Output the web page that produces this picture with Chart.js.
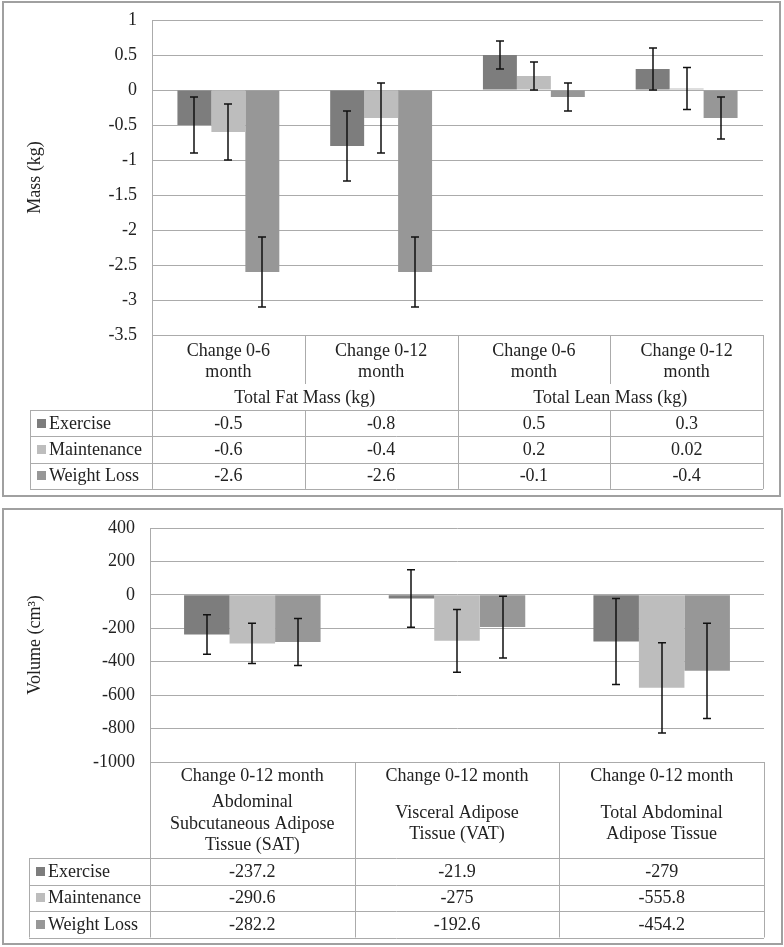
<!DOCTYPE html>
<html>
<head>
<meta charset="utf-8">
<script src="https://cdn.jsdelivr.net/npm/chart.js@4"></script>
<style>
  body { margin: 0; background: #fff; }
  .panel { position: absolute; left: 0; width: 784px; }
</style>
</head>
<body>
<div class="panel" style="top:0;height:500px"><canvas id="massChart"></canvas></div>
<div class="panel" style="top:500px;height:447px"><canvas id="volumeChart"></canvas></div>
<script>
// series shared by both charts
const seriesNames = ['Exercise', 'Maintenance', 'Weight Loss'];
const seriesColors = ['#7d7d7d', '#bdbdbd', '#979797'];

// top chart: body mass
const massCategories = ['Change 0-6 month', 'Change 0-12 month', 'Change 0-6 month', 'Change 0-12 month'];
const massGroups = ['Total Fat Mass (kg)', 'Total Lean Mass (kg)'];
const massExercise = [-0.5, -0.8, 0.5, 0.3];
const massMaintenance = [-0.6, -0.4, 0.2, 0.02];
const massWeightLoss = [-2.6, -2.6, -0.1, -0.4];
const massExerciseErr = [0.4, 0.5, 0.2, 0.3];
const massMaintenanceErr = [0.4, 0.5, 0.2, 0.3];
const massWeightLossErr = [0.5, 0.5, 0.2, 0.3];

// bottom chart: adipose tissue volume
const volumeCategories = ['Change 0-12 month', 'Change 0-12 month', 'Change 0-12 month'];
const volumeTissues = [
  ['Abdominal', 'Subcutaneous Adipose', 'Tissue (SAT)'],
  ['Visceral Adipose', 'Tissue (VAT)'],
  ['Total Abdominal', 'Adipose Tissue']
];
const volumeExercise = [-237.2, -21.9, -279];
const volumeMaintenance = [-290.6, -275, -555.8];
const volumeWeightLoss = [-282.2, -192.6, -454.2];
const volumeExerciseErr = [118, 172, 257];
const volumeMaintenanceErr = [120, 188, 270];
const volumeWeightLossErr = [140, 185, 285];

const fontFamily = '"Liberation Serif", "Times New Roman", serif';
const gridColor = '#ababab';
const textColor = '#222';

function px(v) { return Math.round(v) + 0.5; }

function panelBorder(box) {
  return {
    id: 'panelBorder',
    beforeDraw(chart) {
      const ctx = chart.ctx;
      ctx.save();
      ctx.fillStyle = '#fff';
      ctx.fillRect(0, 0, chart.width, chart.height);
      ctx.strokeStyle = '#a0a0a0';
      ctx.lineWidth = 2;
      ctx.strokeRect(box[0], box[1], box[2], box[3]);
      ctx.restore();
    }
  };
}

function errorBars(errs) {
  return {
    id: 'errorBars',
    afterDatasetsDraw(chart) {
      const ctx = chart.ctx;
      const y = chart.scales.y;
      ctx.save();
      ctx.strokeStyle = '#111';
      ctx.lineWidth = 1.5;
      chart.data.datasets.forEach((ds, di) => {
        chart.getDatasetMeta(di).data.forEach((bar, i) => {
          const v = ds.data[i], e = errs[di][i];
          const y1 = y.getPixelForValue(v + e), y2 = y.getPixelForValue(v - e);
          const bx = Math.round(bar.x);
          ctx.beginPath();
          ctx.moveTo(bx, y1); ctx.lineTo(bx, y2);
          ctx.moveTo(bx - 4, y1); ctx.lineTo(bx + 4, y1);
          ctx.moveTo(bx - 4, y2); ctx.lineTo(bx + 4, y2);
          ctx.stroke();
        });
      });
      ctx.restore();
    }
  };
}

// data table under the plot, columns follow the category scale
function dataTable(cfg) {
  return {
    id: 'dataTable',
    afterDraw(chart) {
      const ctx = chart.ctx;
      const x = chart.scales.x;
      const area = chart.chartArea;
      const n = chart.data.labels.length;
      const half = (x.getPixelForValue(1) - x.getPixelForValue(0)) / 2;
      const edges = [];
      for (let i = 0; i < n; i++) edges.push(x.getPixelForValue(i) - half);
      edges.push(x.getPixelForValue(n - 1) + half);
      const rows = chart.data.datasets.length;
      const top = area.bottom;
      const bottom = cfg.rowTop + cfg.rowH * rows;
      const line = (x1, y1, x2, y2) => { ctx.beginPath(); ctx.moveTo(x1, y1); ctx.lineTo(x2, y2); ctx.stroke(); };

      ctx.save();
      ctx.strokeStyle = gridColor;
      ctx.lineWidth = 1;
      edges.forEach((ex, i) => {
        const major = !cfg.groupSize || i % cfg.groupSize === 0;
        if (major) {
          line(px(ex), top, px(ex), bottom);
        } else {
          line(px(ex), top, px(ex), cfg.minorBottom);
          line(px(ex), cfg.rowTop, px(ex), bottom);
        }
      });
      line(px(cfg.labelLeft), cfg.rowTop, px(cfg.labelLeft), bottom);
      for (let r = 0; r <= rows; r++) {
        const ry = px(cfg.rowTop + r * cfg.rowH);
        line(cfg.labelLeft, ry, edges[n], ry);
      }

      ctx.fillStyle = textColor;
      ctx.font = '18px ' + fontFamily;
      ctx.textAlign = 'center';
      ctx.textBaseline = 'middle';
      cfg.header.forEach((lines, i) => {
        const cx = (edges[i] + edges[i + 1]) / 2;
        const y0 = cfg.headerY[i] - (lines.length - 1) * cfg.lineH / 2;
        lines.forEach((t, k) => ctx.fillText(t, cx, y0 + k * cfg.lineH));
      });
      if (cfg.groups) {
        cfg.groups.forEach((g, gi) => {
          const cx = (edges[gi * cfg.groupSize] + edges[(gi + 1) * cfg.groupSize]) / 2;
          ctx.fillText(g, cx, cfg.groupY);
        });
      }

      chart.data.datasets.forEach((ds, r) => {
        const cy = cfg.rowTop + (r + 0.5) * cfg.rowH;
        ctx.fillStyle = ds.backgroundColor;
        ctx.fillRect(cfg.labelLeft + 7, Math.round(cy - 4.5), 9, 9);
        ctx.fillStyle = textColor;
        ctx.textAlign = 'left';
        ctx.fillText(ds.label, cfg.labelLeft + 19, cy + 1);
        ctx.textAlign = 'center';
        ds.data.forEach((v, i) => ctx.fillText(String(v), (edges[i] + edges[i + 1]) / 2, cy + 1));
      });
      ctx.restore();
    }
  };
}

function barDatasets(values) {
  return values.map((d, i) => ({
    label: seriesNames[i],
    data: d,
    backgroundColor: seriesColors[i],
    borderWidth: 0,
    barPercentage: 1,
    categoryPercentage: 0.667
  }));
}

function baseOptions(p) {
  return {
    responsive: true,
    maintainAspectRatio: false,
    animation: false,
    layout: { padding: p.padding },
    plugins: { legend: { display: false }, tooltip: { enabled: false } },
    scales: {
      x: { display: false },
      y: {
        min: p.min,
        max: p.max,
        afterFit(scale) {
          scale.width = p.axisWidth;
          scale.paddingTop = 0;
          scale.paddingBottom = 0;
        },
        border: { display: true, color: gridColor },
        grid: { color: gridColor, drawTicks: false },
        ticks: {
          stepSize: p.step,
          padding: 15,
          color: textColor,
          font: { family: fontFamily, size: 18 },
          callback: (v) => String(v)
        },
        title: {
          display: true,
          text: p.title,
          color: textColor,
          font: { family: fontFamily, size: 18 },
          padding: { top: 24, bottom: 0 }
        }
      }
    }
  };
}

new Chart(document.getElementById('massChart'), {
  type: 'bar',
  data: {
    labels: massCategories,
    datasets: barDatasets([massExercise, massMaintenance, massWeightLoss])
  },
  options: baseOptions({
    padding: { top: 20, right: 21, bottom: 165, left: 0 },
    axisWidth: 152,
    min: -3.5, max: 1, step: 0.5,
    title: 'Mass (kg)'
  }),
  plugins: [
    panelBorder([3, 2, 777, 494]),
    errorBars([massExerciseErr, massMaintenanceErr, massWeightLossErr]),
    dataTable({
      header: massCategories.map((c) => [c.replace(' month', ''), 'month']),
      headerY: [362, 362, 362, 362],
      lineH: 21,
      groups: massGroups,
      groupSize: 2,
      groupY: 398,
      minorBottom: 384,
      rowTop: 410,
      rowH: 26.3,
      labelLeft: 30
    })
  ]
});

new Chart(document.getElementById('volumeChart'), {
  type: 'bar',
  data: {
    labels: volumeCategories,
    datasets: barDatasets([volumeExercise, volumeMaintenance, volumeWeightLoss])
  },
  options: baseOptions({
    padding: { top: 28, right: 20, bottom: 185, left: 0 },
    axisWidth: 150,
    min: -1000, max: 400, step: 200,
    title: 'Volume (cm³)'
  }),
  plugins: [
    panelBorder([3, 9, 779, 435]),
    errorBars([volumeExerciseErr, volumeMaintenanceErr, volumeWeightLossErr]),
    dataTable({
      header: volumeCategories.map((c) => [c]),
      headerY: [276, 276, 276],
      lineH: 21.5,
      rowTop: 358,
      rowH: 26.5,
      labelLeft: 29
    }),
    {
      id: 'tissueLabels',
      afterDraw(chart) {
        const ctx = chart.ctx;
        const x = chart.scales.x;
        ctx.save();
        ctx.fillStyle = textColor;
        ctx.font = '18px ' + fontFamily;
        ctx.textAlign = 'center';
        ctx.textBaseline = 'middle';
        volumeTissues.forEach((lines, i) => {
          const y0 = 324 - (lines.length - 1) * 21.5 / 2;
          lines.forEach((t, k) => ctx.fillText(t, x.getPixelForValue(i), y0 + k * 21.5));
        });
        ctx.restore();
      }
    }
  ]
});
</script>
</body>
</html>
